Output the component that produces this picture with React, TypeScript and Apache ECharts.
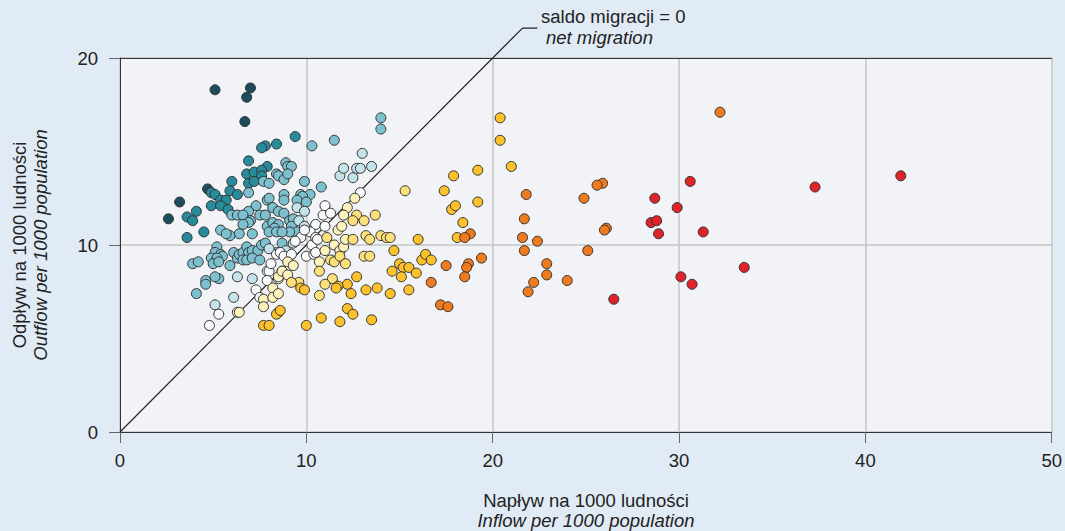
import React, { useEffect, useRef } from "react";
import * as echarts from "echarts";

// Inflow (x) vs outflow (y) per 1000 population, grouped by colour class
const darkTeal: number[][] = [
  [5.1, 18.3], [7.0, 18.4], [6.8, 17.9], [6.7, 16.6], [3.2, 12.3], [2.6, 11.4], [4.7, 13.0],
];
const teal: number[][] = [
  [9.4, 15.8], [8.4, 15.4], [7.8, 15.3], [7.6, 15.2], [6.9, 14.5], [7.9, 14.2], [6.8, 13.8],
  [7.2, 13.9], [7.6, 14.0], [7.6, 13.7], [6.9, 13.3], [7.2, 13.4], [6.0, 13.4], [5.9, 12.9],
  [6.3, 12.7], [4.9, 12.8], [5.1, 12.7], [5.4, 12.4], [5.7, 12.4], [4.9, 12.1], [5.4, 12.1],
  [5.8, 11.9], [4.1, 11.8], [3.6, 11.5], [3.9, 11.3], [4.5, 10.7], [3.6, 10.4],
];
const lightBlue: number[][] = [
  [14.0, 16.8], [14.0, 16.2], [11.5, 15.6], [10.3, 15.3], [9.9, 13.4], [10.8, 13.1],
  [8.9, 14.4], [9.0, 14.2], [9.2, 14.2], [8.4, 13.8], [8.5, 13.7], [8.8, 13.5], [9.0, 13.8],
  [7.7, 13.4], [8.0, 13.3], [6.9, 12.8], [8.8, 12.7], [8.8, 12.4], [9.7, 12.7], [10.2, 12.7],
  [9.8, 12.6], [9.5, 12.4], [10.0, 12.3], [7.9, 12.4], [8.0, 12.5], [7.3, 12.1], [6.9, 11.8],
  [6.0, 11.6], [6.3, 11.6], [6.6, 11.6], [8.2, 12.0], [8.5, 11.8], [8.8, 11.7], [7.5, 11.6],
  [7.8, 11.6], [7.0, 11.3], [6.9, 11.2], [6.6, 11.1], [6.4, 10.6], [7.9, 11.0], [8.2, 11.2],
  [8.5, 11.1], [8.3, 10.9], [8.0, 10.7], [8.4, 10.7], [9.1, 11.3], [9.3, 11.4], [9.2, 11.0],
  [9.5, 10.7], [9.1, 10.7], [5.4, 10.8], [7.1, 10.6], [5.9, 10.5], [5.7, 10.6], [8.7, 10.7],
  [5.2, 9.9], [5.1, 9.6], [5.4, 9.5], [5.5, 9.4], [4.9, 9.3], [5.2, 9.3], [5.0, 9.0],
  [5.3, 9.1], [3.9, 9.0], [4.2, 9.1], [5.3, 8.2], [5.1, 8.3], [4.6, 8.1], [4.6, 7.9],
  [4.1, 7.4], [5.9, 8.9], [6.1, 9.6], [6.3, 9.3], [6.4, 9.5], [6.6, 9.6], [6.8, 9.9],
  [6.9, 9.6], [7.1, 9.7], [7.4, 9.7], [7.6, 10.0], [7.8, 10.1], [6.6, 9.2], [6.8, 9.2],
  [7.1, 9.3], [7.5, 9.2], [8.7, 10.1], [8.4, 9.6],
];
const paleBlue: number[][] = [
  [11.8, 13.7], [12.0, 14.1], [12.5, 13.6], [12.7, 14.1], [12.9, 14.1], [13.0, 14.9],
  [13.5, 14.2], [5.1, 6.8], [6.1, 7.2], [6.3, 8.3], [7.1, 8.2], [8.9, 9.7], [9.6, 11.3],
  [9.9, 11.0], [9.3, 10.1], [8.0, 9.8], [9.5, 12.0], [9.9, 11.8],
];
const white: number[][] = [
  [4.8, 5.7], [5.3, 6.3], [6.3, 6.4], [7.3, 7.6], [7.5, 7.2], [7.9, 8.6], [8.0, 8.6],
  [7.9, 8.1], [8.7, 8.6], [8.5, 8.2], [10.3, 10.0], [10.0, 9.4], [10.4, 9.5], [10.5, 9.6],
  [10.5, 11.1], [10.2, 10.7], [10.5, 10.4], [10.9, 11.6], [11.0, 11.0], [11.0, 12.1],
  [11.3, 11.7], [10.6, 10.3], [8.4, 9.5], [8.6, 9.6], [8.8, 9.4], [9.7, 10.4], [9.9, 10.8],
  [9.4, 10.2], [9.2, 9.5], [8.1, 9.0], [12.9, 12.8],
];
const paleYellow: number[][] = [
  [12.6, 12.5], [12.2, 12.0], [12.0, 11.6], [11.7, 10.8], [11.9, 11.0], [11.0, 9.7],
  [11.5, 10.0], [11.8, 9.7], [12.0, 9.9], [12.1, 10.3], [10.7, 9.1], [7.7, 7.1], [7.7, 6.7],
  [8.5, 8.3], [8.7, 8.6], [9.0, 8.4], [8.2, 7.7], [8.2, 7.2], [8.5, 7.4], [6.4, 6.4],
  [9.0, 9.1], [9.3, 8.9],
];
const lightYellow: number[][] = [
  [12.7, 11.6], [12.5, 11.3], [13.1, 11.3], [13.7, 11.6], [15.3, 12.9], [13.2, 10.5],
  [13.4, 10.3], [14.0, 10.5], [14.3, 10.4], [14.5, 10.4], [11.3, 9.2], [11.5, 9.1],
  [11.8, 9.4], [12.1, 9.0], [10.7, 8.6], [11.4, 8.2], [11.0, 7.9], [10.7, 7.3], [13.1, 9.4],
  [13.4, 9.4], [12.5, 10.3], [9.6, 8.0], [9.2, 8.0], [11.1, 10.4],
];
const yellow: number[][] = [
  [17.9, 13.7], [19.2, 14.0], [17.4, 12.9], [20.4, 16.8], [20.4, 15.6], [21.0, 14.2],
  [17.8, 11.9], [18.0, 12.1], [19.2, 12.3], [18.4, 11.2], [18.1, 10.4], [16.0, 10.3],
  [14.7, 9.7], [15.0, 9.0], [15.2, 8.8], [15.5, 8.8], [14.6, 8.6], [15.1, 8.3], [15.9, 8.5],
  [15.5, 7.6], [14.5, 7.4], [16.2, 9.2], [16.4, 9.5], [16.7, 9.2], [13.8, 7.7], [13.2, 7.6],
  [12.4, 7.4], [12.7, 8.3], [12.2, 7.9], [11.7, 7.8], [11.6, 7.7], [12.2, 6.6], [12.5, 6.3],
  [11.8, 5.9], [13.5, 6.0], [10.8, 6.1], [10.0, 5.7], [7.7, 5.7], [8.0, 5.7], [8.5, 6.4],
  [8.4, 6.3], [8.6, 6.5], [9.7, 7.7], [9.9, 7.6],
];
const orange: number[][] = [
  [32.2, 17.1], [25.9, 13.3], [25.6, 13.2], [24.9, 12.5], [26.1, 10.9], [26.0, 10.8],
  [25.1, 9.7], [24.0, 8.1], [21.8, 12.7], [21.7, 11.4], [21.6, 10.4], [22.4, 10.2],
  [21.7, 9.7], [22.9, 9.0], [22.9, 8.4], [22.2, 8.0], [21.9, 7.5], [18.8, 10.6], [18.5, 10.4],
  [19.4, 9.3], [17.5, 8.9], [18.7, 9.0], [18.6, 8.8], [18.5, 8.3], [16.7, 8.0], [17.2, 6.8],
  [17.6, 6.7],
];
const red: number[][] = [
  [30.6, 13.4], [28.7, 12.5], [29.9, 12.0], [28.5, 11.2], [28.8, 11.3], [28.9, 10.6],
  [31.3, 10.7], [37.3, 13.1], [41.9, 13.7], [33.5, 8.8], [30.1, 8.3], [30.7, 7.9], [26.5, 7.1],
];

// Reference line (net migration = 0) and its leader to the label
const zeroLine: number[][] = [[0, 0], [21.6, 21.6], [22.4, 21.6]];

const xTicks = [0, 10, 20, 30, 40, 50];
const yTicks = [0, 10, 20];

const groups: { name: string; data: number[][]; color: string }[] = [
  { name: "darkTeal", data: darkTeal, color: "#1c4d5c" },
  { name: "teal", data: teal, color: "#278b9b" },
  { name: "lightBlue", data: lightBlue, color: "#7dc1d0" },
  { name: "paleBlue", data: paleBlue, color: "#c4e3ea" },
  { name: "white", data: white, color: "#f7f9fa" },
  { name: "paleYellow", data: paleYellow, color: "#fef3bd" },
  { name: "lightYellow", data: lightYellow, color: "#fde07a" },
  { name: "yellow", data: yellow, color: "#fcc12b" },
  { name: "orange", data: orange, color: "#f07b1e" },
  { name: "red", data: red, color: "#df2328" },
];

const FONT = "'Liberation Sans', Arial, sans-serif";
const FS = 18.5;

export default function App() {
  const ref = useRef<HTMLDivElement>(null);
  useEffect(() => {
    if (!ref.current) return;
    const chart = echarts.init(ref.current, undefined, { renderer: "svg" });
    const axisCommon = {
      min: 0,
      interval: 10,
      axisLine: { show: true, lineStyle: { color: "#333", width: 1 } },
      axisTick: { show: true, length: 11, lineStyle: { color: "#666" } },
      axisLabel: { color: "#222", fontSize: FS, fontFamily: FONT, margin: 22 },
      splitLine: { show: true, lineStyle: { color: "#c6c6c6", width: 1.5 } },
    };
    chart.setOption({
      animation: false,
      backgroundColor: "#e1ebf5",
      grid: {
        left: 120,
        right: 12,
        top: 58,
        bottom: 99,
        show: true,
        backgroundColor: "#f1f3f6",
        borderWidth: 0,
      },
      xAxis: [
        {
          ...axisCommon,
          type: "value",
          max: 50,
          axisLabel: {
            ...axisCommon.axisLabel,
            margin: 19,
            formatter: (v: number) => (xTicks.includes(v) ? String(v) : ""),
          },
        },
        {
          type: "value",
          position: "top",
          min: 0,
          max: 50,
          axisLine: { show: true, lineStyle: { color: "#333", width: 1 } },
          axisTick: { show: false },
          axisLabel: { show: false },
          splitLine: { show: false },
        },
      ],
      yAxis: {
        ...axisCommon,
        type: "value",
        max: 20,
        axisLabel: {
          ...axisCommon.axisLabel,
          formatter: (v: number) => (yTicks.includes(v) ? String(v) : ""),
        },
      },
      series: [
        {
          type: "line",
          data: zeroLine,
          clip: false,
          symbol: "none",
          silent: true,
          lineStyle: { color: "#222", width: 1.2 },
          z: 1,
        },
        ...groups.map((g) => ({
          type: "scatter",
          name: g.name,
          data: g.data,
          symbol: "circle",
          symbolSize: 10,
          itemStyle: { color: g.color, borderColor: "#333", borderWidth: 1, opacity: 1 },
          z: 3,
        })),
      ],
      graphic: [
        {
          type: "text",
          left: 541,
          top: 7,
          style: { text: "saldo migracji = 0", fontSize: FS, fontFamily: FONT, fill: "#222" },
        },
        {
          type: "text",
          left: 546,
          top: 28,
          style: {
            text: "net migration",
            fontSize: FS,
            fontStyle: "italic",
            fontFamily: FONT,
            fill: "#222",
          },
        },
        {
          type: "text",
          x: 586,
          y: 500,
          style: {
            text: "Napływ na 1000 ludności",
            fontSize: FS,
            fontFamily: FONT,
            fill: "#222",
            align: "center",
            verticalAlign: "middle",
          },
        },
        {
          type: "text",
          x: 586,
          y: 520,
          style: {
            text: "Inflow per 1000 population",
            fontSize: FS,
            fontStyle: "italic",
            fontFamily: FONT,
            fill: "#222",
            align: "center",
            verticalAlign: "middle",
          },
        },
        {
          type: "text",
          x: 19,
          y: 245,
          rotation: Math.PI / 2,
          style: {
            text: "Odpływ na 1000 ludności",
            fontSize: FS,
            fontFamily: FONT,
            fill: "#222",
            align: "center",
            verticalAlign: "middle",
          },
        },
        {
          type: "text",
          x: 40,
          y: 245,
          rotation: Math.PI / 2,
          style: {
            text: "Outflow per 1000 population",
            fontSize: FS,
            fontStyle: "italic",
            fontFamily: FONT,
            fill: "#222",
            align: "center",
            verticalAlign: "middle",
          },
        },
      ],
    });
    return () => chart.dispose();
  }, []);
  return (
    <div
      ref={ref}
      style={{ position: "fixed", left: 0, top: 0, width: 1065, height: 531 }}
    />
  );
}
